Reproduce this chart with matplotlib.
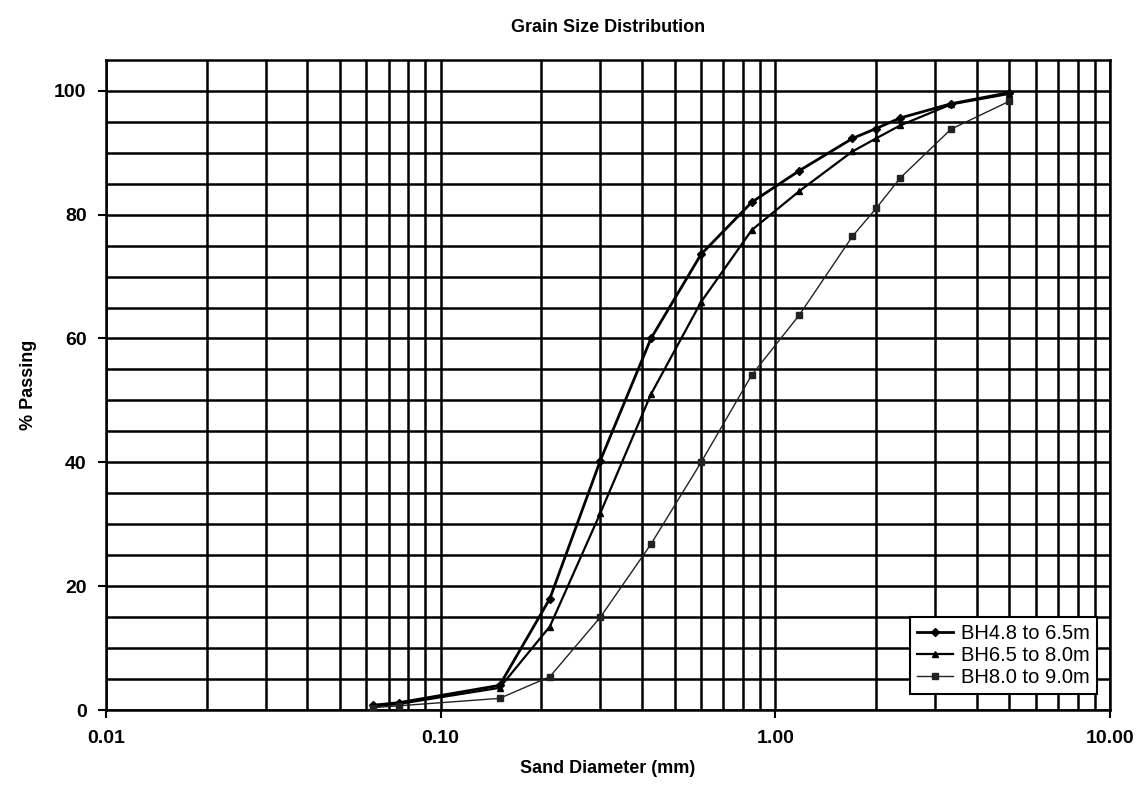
import matplotlib
matplotlib.use("Agg")
import matplotlib.pyplot as plt
from matplotlib.ticker import FixedLocator, NullFormatter
import numpy as np

# sieve sizes (mm) and % passing
sieve = [0.063, 0.075, 0.15, 0.212, 0.3, 0.425, 0.6, 0.85, 1.18, 1.7, 2.0, 2.36, 3.35, 5.0]
bh_48_65 = [0.8, 1.2, 4.0, 18.0, 40.3, 60.0, 73.6, 82.0, 87.1, 92.3, 93.9, 95.6, 97.9, 99.7]
bh_65_80 = [0.6, 1.0, 3.6, 13.5, 31.8, 51.0, 65.9, 77.5, 83.8, 90.2, 92.3, 94.4, 97.8, 99.5]
bh_80_90 = [0.4, 0.7, 1.9, 5.4, 15.0, 26.8, 40.0, 54.1, 63.8, 76.5, 81.0, 85.9, 93.8, 98.3]
labels = ['BH4.8 to 6.5m', 'BH6.5 to 8.0m', 'BH8.0 to 9.0m']

plt.rcParams['font.family'] = ['Liberation Sans', 'DejaVu Sans']

fig = plt.figure(figsize=(11.48, 7.97), dpi=100)
ax = fig.add_axes([0.0923, 0.109, 0.8746, 0.816])

ax.set_xscale('log')
ax.set_xlim(0.01, 10)
ax.set_ylim(0, 105)

# full log grid + every 5 %
minor_x = [m * 10.0 ** e for e in range(-2, 1) for m in range(2, 10)]
ax.xaxis.set_minor_locator(FixedLocator(minor_x))
ax.xaxis.set_minor_formatter(NullFormatter())
ax.set_xticks([0.01, 0.1, 1, 10])
ax.set_xticklabels(['0.01', '0.10', '1.00', '10.00'])
ax.set_yticks([0, 20, 40, 60, 80, 100])
ax.yaxis.set_minor_locator(FixedLocator(np.arange(5, 105, 5)))
ax.grid(True, which='both', color='black', linewidth=1.8)
ax.tick_params(axis='both', which='major', direction='out', length=6, width=1.5,
               labelsize=14, pad=8)
ax.tick_params(axis='both', which='minor', length=0)
for lab in ax.get_xticklabels() + ax.get_yticklabels():
    lab.set_fontweight('bold')
for s in ax.spines.values():
    s.set_linewidth(1.8)

ax.plot(sieve, bh_48_65, color='black', lw=2.0, marker='D', ms=4, label=labels[0], zorder=4)
ax.plot(sieve, bh_65_80, color='black', lw=1.6, marker='^', ms=5, label=labels[1], zorder=4)
ax.plot(sieve, bh_80_90, color='#222222', lw=1.0, marker='s', ms=4.5, label=labels[2], zorder=4)

ax.set_title('Grain Size Distribution', fontsize=13, fontweight='bold', pad=20)
ax.set_xlabel('Sand Diameter (mm)', fontsize=13, fontweight='bold', labelpad=10)
ax.set_ylabel('% Passing', fontsize=13, fontweight='bold', labelpad=12)

leg = ax.legend(loc='lower right', bbox_to_anchor=(0.987, 0.025), borderaxespad=0,
                fancybox=False, framealpha=1, edgecolor='black', handlelength=1.8,
                borderpad=0.35, labelspacing=0.15, handletextpad=0.4,
                prop={'size': 14.5})
leg.get_frame().set_linewidth(1.5)

fig.savefig('out.png', dpi=100)
